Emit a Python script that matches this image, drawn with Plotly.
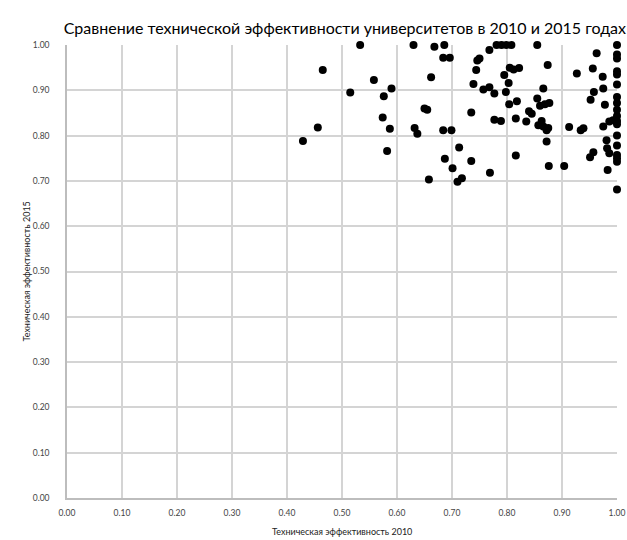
import plotly.graph_objects as go

# technical efficiency of universities
eff_2010 = [
    0.533, 0.465, 0.630, 0.668, 0.686, 0.684, 0.696, 0.558, 0.662, 0.590,
    0.515, 0.576, 0.650, 0.655, 0.574, 0.456, 0.587, 0.632, 0.637, 0.684,
    0.699, 0.429, 0.582, 0.687, 0.701, 0.658, 0.710, 0.718, 0.713, 0.781,
    0.790, 0.799, 0.808, 0.768, 0.855, 0.963, 0.750, 0.746, 0.874, 0.744,
    0.805, 0.812, 0.822, 0.956, 0.927, 0.795, 0.974, 0.803, 0.739, 0.757,
    0.768, 0.777, 0.866, 0.975, 0.798, 0.958, 0.855, 0.952, 0.804, 0.818,
    0.860, 0.869, 0.877, 0.978, 0.735, 0.840, 0.845, 0.816, 0.777, 0.789,
    0.835, 0.863, 0.857, 0.866, 0.875, 0.872, 0.913, 0.934, 0.939, 0.975,
    0.986, 0.993, 0.872, 0.981, 0.982, 0.816, 0.957, 0.951, 0.986, 0.735,
    0.876, 0.904, 0.769, 0.983,
    1.0, 1.0, 1.0, 1.0, 1.0, 1.0, 1.0, 1.0, 1.0, 1.0,
    1.0, 1.0, 1.0, 1.0, 1.0, 1.0, 1.0, 1.0,
]
eff_2015 = [
    1.000, 0.945, 1.000, 0.996, 1.000, 0.972, 0.972, 0.923, 0.929, 0.904,
    0.895, 0.887, 0.860, 0.857, 0.840, 0.818, 0.815, 0.817, 0.804, 0.812,
    0.812, 0.788, 0.766, 0.749, 0.728, 0.703, 0.698, 0.706, 0.774, 1.000,
    1.000, 1.000, 1.000, 0.989, 1.000, 0.982, 0.970, 0.966, 0.956, 0.945,
    0.950, 0.946, 0.949, 0.948, 0.937, 0.934, 0.930, 0.916, 0.914, 0.902,
    0.907, 0.893, 0.904, 0.904, 0.896, 0.896, 0.882, 0.879, 0.869, 0.876,
    0.866, 0.869, 0.872, 0.868, 0.851, 0.854, 0.848, 0.838, 0.835, 0.832,
    0.831, 0.832, 0.823, 0.820, 0.817, 0.812, 0.819, 0.812, 0.816, 0.820,
    0.831, 0.834, 0.787, 0.790, 0.772, 0.756, 0.763, 0.752, 0.761, 0.744,
    0.733, 0.733, 0.718, 0.724,
    1.000, 0.979, 0.970, 0.942, 0.935, 0.913, 0.885, 0.872, 0.857, 0.843,
    0.832, 0.825, 0.800, 0.778, 0.757, 0.750, 0.742, 0.681,
]

FONT = "Lato"
GRID = "#d4d4d4"
LABEL_FONT = dict(family=FONT, size=9, color="#222222")

fig = go.Figure()
fig.add_trace(go.Scatter(x=eff_2010, y=eff_2015, mode="markers", cliponaxis=False,
                         marker=dict(color="black", size=8, line=dict(width=0)),
                         showlegend=False))

axis = dict(range=[0, 1], dtick=0.1, tick0=0, tickformat=".2f", showgrid=True,
            gridcolor=GRID, gridwidth=1.5, zeroline=False, showline=True,
            linecolor="#bdbdbd", linewidth=1.5, ticks="", automargin=False,
            tickfont=dict(family=FONT, size=8.5, color="#444444"))

fig.update_xaxes(**axis, ticklabelstandoff=6)
fig.update_yaxes(**axis, ticklabelstandoff=14)

# axis titles as annotations so they sit where the original puts them
fig.add_annotation(text="Техническая эффективность 2010", xref="paper", yref="paper",
                   x=0.5, y=-0.075, xanchor="center", yanchor="middle",
                   showarrow=False, font=LABEL_FONT)
fig.add_annotation(text="Техническая эффективность 2015", xref="paper", yref="paper",
                   x=-0.0745, y=0.5, xanchor="center", yanchor="middle", textangle=-90,
                   showarrow=False, font=LABEL_FONT)

fig.update_layout(
    width=627, height=540,
    margin=dict(l=67, r=10, t=45, b=42, autoexpand=False),
    paper_bgcolor="white", plot_bgcolor="white",
    title=dict(text="Сравнение технической эффективности университетов в 2010 и 2015 годах",
               x=0.55, xanchor="center", y=0.948, yanchor="middle", automargin=False,
               font=dict(family=FONT, size=16, color="black")),
)

# drop the browser's default 8px body margin so the figure fills the window
fig.write_html("out.html", config={"displayModeBar": False},
               post_script="document.body.style.margin='0';")
